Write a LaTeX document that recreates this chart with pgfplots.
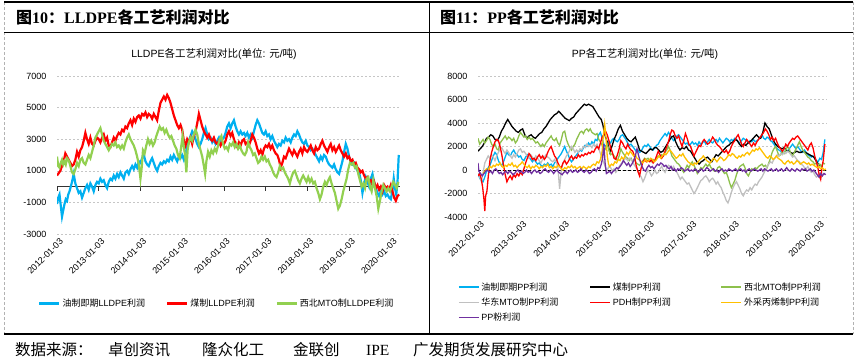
\documentclass[border=0pt]{standalone}
\usepackage{pgfplots}
\pgfplotsset{compat=1.18}
\usepackage{fontspec}
\setmainfont{Liberation Serif}
\newfontfamily\cjk{Noto Sans CJK SC}
\newfontfamily\lsans{Liberation Sans}
\newcommand\C[1]{{\cjk #1}}
\definecolor{cblue}{HTML}{00B0F0}
\definecolor{cred}{HTML}{FF0000}
\definecolor{cgreen}{HTML}{92D050}
\definecolor{cgreen2}{HTML}{8DC04C}
\definecolor{cgray}{HTML}{C0C0C0}
\definecolor{cyellow}{HTML}{FFC000}
\definecolor{cpurple}{HTML}{7030A0}
\pgfplotsset{
  mystyle/.style={
    scale only axis, anchor=south west,
    axis line style={draw=none},
    major tick length=0pt,
    ymajorgrids, grid style={gray!45, dash pattern=on 2pt off 2pt, line width=0.5pt},
    tick label style={font=\lsans\fontsize{9}{10}\selectfont},
    /pgf/number format/assume math mode=true,
    /pgf/number format/1000 sep={},
    scaled ticks=false,
    xtick={2012,2013,2014,2015,2016,2017,2018,2019,2020},
    xticklabels={2012-01-03,2013-01-03,2014-01-03,2015-01-03,2016-01-03,2017-01-03,2018-01-03,2019-01-03,2020-01-03},
    xticklabel style={rotate=45, anchor=north east, inner sep=1pt, yshift=-3pt},
    yticklabel style={xshift=-7pt},
    legend style={draw=none, fill=none, font=\lsans\fontsize{9}{10}\selectfont},
    legend image code/.code={\draw[##1] (0pt,0pt) -- (20pt,0pt);},
    legend cell align=left,
  }
}
\begin{document}
\begin{tikzpicture}
\begin{scope}[x=1pt,y=1pt]
\useasboundingbox (0,0) rectangle (857,364);
% frame
\draw[gray!60, densely dashed] (4,362) -- (4,30);
\draw[gray!60, densely dashed] (853,362) -- (853,30);
\draw[black, line width=1.2pt] (4,362) -- (853,362);
\draw[black, line width=0.8pt] (4,332) -- (853,332);
\draw[black, line width=0.8pt] (429,362) -- (429,30);
\draw[black, line width=1.2pt] (4,30) -- (853,30);
\node[anchor=west, font=\fontsize{16}{18}\selectfont\bfseries, inner sep=0pt] at (16,347) {\C{图}10\C{：}LLDPE\C{各工艺利润对比}};
\node[anchor=west, font=\fontsize{16}{18}\selectfont\bfseries, inner sep=0pt] at (440,347) {\C{图}11\C{：}PP\C{各工艺利润对比}};
% footer
\begin{scope}[every node/.style={anchor=west, inner sep=0pt, font=\cjk\fontsize{15.5}{17}\selectfont}]
\node at (15,14) {数据来源：};
\node at (108,14) {卓创资讯};
\node at (202,14) {隆众化工};
\node at (293,14) {金联创};
\node[font=\fontsize{15.5}{17}\selectfont] at (366,14) {IPE};
\node at (413,14) {广发期货发展研究中心};
\end{scope}
% titles
\node[font=\lsans\fontsize{10.5}{12}\selectfont] at (214,310) {LLDPE\C{各工艺利润对比}(\C{单位}: \C{元}/\C{吨})};
\node[font=\lsans\fontsize{10.5}{12}\selectfont] at (645,310) {PP\C{各工艺利润对比}(\C{单位}: \C{元}/\C{吨})};
\end{scope}

% ================= LEFT =================
\begin{axis}[mystyle, at={(57pt,130pt)}, width=343pt, height=158pt,
  xmin=2012, xmax=2020.22, ymin=-3000, ymax=7000,
  ytick={-3000,-1000,1000,3000,5000,7000},
  legend columns=3,
  legend style={at={(0.466,-0.44)}, anchor=center, /tikz/every even column/.append style={column sep=19pt}},
]
\addplot[black!80, line width=0.8pt, forget plot] coordinates {(2012,0) (2020.22,0)};
\addplot[black!80, line width=0.6pt, forget plot, ycomb, mark=none] coordinates {(2012,-250)(2013,-250)(2014,-250)(2015,-250)(2016,-250)(2017,-250)(2018,-250)(2019,-250)(2020,-250)};
\addplot[cblue, line width=2.2pt] coordinates {
(2012.00,-1100)(2012.03,-700)(2012.06,-500)(2012.09,-1200)(2012.12,-1900)(2012.15,-1500)(2012.18,-1100)(2012.21,-800)(2012.24,-900)(2012.27,-500)(2012.30,-300)(2012.33,0)(2012.36,300)(2012.40,800)(2012.44,200)(2012.48,-100)(2012.52,-400)(2012.56,-300)(2012.60,-700)(2012.64,-400)(2012.68,-100)(2012.72,100)(2012.76,-200)(2012.80,200)(2012.84,0)(2012.88,-300)(2012.92,100)(2012.96,300)
(2013.00,200)(2013.04,500)(2013.08,300)(2013.12,400)(2013.16,100)(2013.20,-100)(2013.24,300)(2013.28,500)(2013.32,400)(2013.36,700)(2013.40,500)(2013.44,800)(2013.48,600)(2013.52,900)(2013.56,700)(2013.60,500)(2013.64,900)(2013.68,1000)(2013.72,800)(2013.76,1100)(2013.80,1300)(2013.84,1100)(2013.88,1400)(2013.92,1200)(2013.96,1600)
(2014.00,1500)(2014.04,1800)(2014.08,2000)(2014.12,1600)(2014.16,1400)(2014.20,1300)(2014.24,1600)(2014.28,1800)(2014.32,1500)(2014.36,1200)(2014.40,1000)(2014.44,1300)(2014.48,1500)(2014.52,1400)(2014.56,1600)(2014.60,1500)(2014.64,1700)(2014.68,1600)(2014.72,1900)(2014.76,1700)(2014.80,2000)(2014.84,1800)(2014.88,1600)(2014.92,1900)(2014.96,1800)
(2015.00,2000)(2015.04,1700)(2015.08,2100)(2015.12,2500)(2015.16,2900)(2015.20,3200)(2015.24,3500)(2015.28,3300)(2015.32,3000)(2015.36,2700)(2015.40,2500)(2015.44,2700)(2015.48,3000)(2015.52,3400)(2015.56,3700)(2015.60,3300)(2015.64,3000)(2015.68,3100)(2015.72,2800)(2015.76,3000)(2015.80,2700)(2015.84,2900)(2015.88,3100)(2015.92,2800)(2015.96,3000)
(2016.00,3100)(2016.04,3400)(2016.08,3800)(2016.12,4000)(2016.16,3700)(2016.20,4000)(2016.24,4200)(2016.28,3800)(2016.32,3500)(2016.36,3300)(2016.40,3500)(2016.44,3300)(2016.48,3400)(2016.52,3200)(2016.56,3400)(2016.60,3100)(2016.64,3300)(2016.68,3100)(2016.72,3500)(2016.76,3900)(2016.80,4200)(2016.84,4000)(2016.88,3700)(2016.92,3400)(2016.96,3300)
(2017.00,3500)(2017.04,3200)(2017.08,3300)(2017.12,3000)(2017.16,3200)(2017.20,2900)(2017.24,2700)(2017.28,2500)(2017.32,2700)(2017.36,2600)(2017.40,2900)(2017.44,2800)(2017.48,3100)(2017.52,2900)(2017.56,3000)(2017.60,2800)(2017.64,3100)(2017.68,3300)(2017.72,3200)(2017.76,3500)(2017.80,3300)(2017.84,3000)(2017.88,2800)(2017.92,2700)(2017.96,2900)
(2018.00,2600)(2018.04,2500)(2018.08,2300)(2018.12,2400)(2018.16,2200)(2018.20,2000)(2018.24,1800)(2018.28,1600)(2018.32,1900)(2018.36,1700)(2018.40,2000)(2018.44,1900)(2018.48,1600)(2018.52,1400)(2018.56,1300)(2018.60,1200)(2018.64,1400)(2018.68,1100)(2018.72,900)(2018.76,800)(2018.80,1200)(2018.84,1600)(2018.88,2200)(2018.92,2700)(2018.96,2400)
(2019.00,1900)(2019.04,1600)(2019.08,1400)(2019.12,1500)(2019.16,1200)(2019.20,1000)(2019.24,900)(2019.28,400)(2019.32,-400)(2019.36,200)(2019.40,600)(2019.44,300)(2019.48,0)(2019.52,500)(2019.56,800)(2019.60,300)(2019.64,-100)(2019.68,-400)(2019.72,-600)(2019.76,-300)(2019.80,-500)(2019.84,-300)(2019.88,-600)(2019.92,-500)(2019.96,-700)
(2020.00,-800)(2020.04,-200)(2020.07,500)(2020.10,-100)(2020.13,-500)(2020.16,300)(2020.19,2000)
};
\addlegendentry{\C{油制即期}LLDPE\C{利润}}
\addplot[cred, line width=2.2pt] coordinates {
(2012.00,700)(2012.04,850)(2012.08,1000)(2012.12,1300)(2012.16,1600)(2012.20,2100)(2012.24,1900)(2012.28,1700)(2012.32,1500)(2012.36,1300)(2012.40,1400)(2012.44,1700)(2012.48,2200)(2012.52,1900)(2012.56,2300)(2012.60,2500)(2012.64,2900)(2012.68,3400)(2012.72,3000)(2012.76,2700)(2012.80,3100)(2012.84,2700)(2012.88,2600)(2012.92,2900)(2012.96,3100)
(2013.00,3000)(2013.04,2800)(2013.08,3100)(2013.12,3300)(2013.16,2900)(2013.20,3100)(2013.24,2600)(2013.28,2500)(2013.32,2800)(2013.36,3100)(2013.40,2900)(2013.44,3200)(2013.48,3400)(2013.52,3300)(2013.56,3600)(2013.60,3500)(2013.64,3800)(2013.68,3700)(2013.72,4000)(2013.76,4200)(2013.80,3900)(2013.84,4300)(2013.88,4100)(2013.92,4400)(2013.96,4500)
(2014.00,4300)(2014.04,4600)(2014.08,4500)(2014.12,4700)(2014.16,4400)(2014.20,4600)(2014.24,4500)(2014.28,4300)(2014.32,4600)(2014.36,4400)(2014.40,4200)(2014.44,4800)(2014.48,5300)(2014.52,5500)(2014.56,5700)(2014.60,5500)(2014.64,5800)(2014.68,5600)(2014.72,5300)(2014.76,4900)(2014.80,4500)(2014.84,4200)(2014.88,3900)(2014.92,3700)(2014.96,3900)
(2015.00,3600)(2015.04,2900)(2015.08,2600)(2015.12,3000)(2015.16,2800)(2015.20,3100)(2015.24,2700)(2015.28,3200)(2015.32,3500)(2015.36,4000)(2015.40,4600)(2015.44,4200)(2015.48,3800)(2015.52,3500)(2015.56,3300)(2015.60,3100)(2015.64,3300)(2015.68,3000)(2015.72,2900)(2015.76,3100)(2015.80,2800)(2015.84,2700)(2015.88,2900)(2015.92,2600)(2015.96,2800)
(2016.00,2700)(2016.04,2900)(2016.08,3300)(2016.12,3500)(2016.16,3200)(2016.20,3400)(2016.24,3000)(2016.28,2700)(2016.32,2500)(2016.36,2800)(2016.40,2600)(2016.44,2900)(2016.48,3000)(2016.52,2700)(2016.56,2800)(2016.60,2600)(2016.64,2900)(2016.68,3300)(2016.72,3100)(2016.76,2800)(2016.80,2400)(2016.84,2100)(2016.88,2300)(2016.92,2000)(2016.96,2400)
(2017.00,2600)(2017.04,2500)(2017.08,2700)(2017.12,2400)(2017.16,2600)(2017.20,2300)(2017.24,2100)(2017.28,2000)(2017.32,1700)(2017.36,1200)(2017.40,1500)(2017.44,1900)(2017.48,1800)(2017.52,2100)(2017.56,2400)(2017.60,2200)(2017.64,2000)(2017.68,2300)(2017.72,2100)(2017.76,1900)(2017.80,2200)(2017.84,2400)(2017.88,2100)(2017.92,2500)(2017.96,2300)
(2018.00,2200)(2018.04,2400)(2018.08,2600)(2018.12,2300)(2018.16,2100)(2018.20,2500)(2018.24,2300)(2018.28,2400)(2018.32,2700)(2018.36,2900)(2018.40,2600)(2018.44,2400)(2018.48,2200)(2018.52,2500)(2018.56,2700)(2018.60,2300)(2018.64,2500)(2018.68,2200)(2018.72,2400)(2018.76,2600)(2018.80,2300)(2018.84,2100)(2018.88,1900)(2018.92,2100)(2018.96,1800)
(2019.00,1900)(2019.04,1600)(2019.08,1700)(2019.12,1400)(2019.16,1500)(2019.20,1200)(2019.24,1100)(2019.28,900)(2019.32,1000)(2019.36,700)(2019.40,500)(2019.44,600)(2019.48,300)(2019.52,400)(2019.56,100)(2019.60,300)(2019.64,-100)(2019.68,100)(2019.72,-200)(2019.76,0)(2019.80,-300)(2019.84,100)(2019.88,-100)(2019.92,0)(2019.96,-200)
(2020.00,100)(2020.04,-300)(2020.08,-700)(2020.12,-900)(2020.16,-600)(2020.20,-500)
};
\addlegendentry{\C{煤制}LLDPE\C{利润}}
\addplot[cgreen, line width=2.2pt] coordinates {
(2012.00,1900)(2012.03,1300)(2012.06,1200)(2012.09,1500)(2012.12,1700)(2012.15,1400)(2012.18,1600)(2012.21,1400)(2012.24,1800)(2012.27,1700)(2012.30,1500)(2012.33,1200)(2012.36,900)(2012.40,800)(2012.44,1100)(2012.48,1500)(2012.52,1300)(2012.56,1700)(2012.60,1800)(2012.64,1500)(2012.68,1400)(2012.72,1700)(2012.76,2000)(2012.80,1800)(2012.84,2200)(2012.88,2600)(2012.92,3100)(2012.96,3300)
(2013.00,3500)(2013.04,3700)(2013.08,3300)(2013.12,2900)(2013.16,2700)(2013.20,2500)(2013.24,2300)(2013.28,2500)(2013.32,2700)(2013.36,2600)(2013.40,2800)(2013.44,2500)(2013.48,2600)(2013.52,2400)(2013.56,2600)(2013.60,2400)(2013.64,2800)(2013.68,3100)(2013.72,3300)(2013.76,3000)(2013.80,2800)(2013.84,2600)(2013.88,2300)(2013.92,1900)(2013.96,1400)
(2014.00,500)(2014.03,1200)(2014.06,2300)(2014.10,2100)(2014.14,2600)(2014.18,3000)(2014.22,2700)(2014.26,2900)(2014.30,2600)(2014.34,2800)(2014.38,3200)(2014.42,3500)(2014.46,3800)(2014.50,3600)(2014.54,3700)(2014.58,3400)(2014.62,3600)(2014.66,3300)(2014.70,3100)(2014.74,3200)(2014.78,2900)(2014.82,2600)(2014.86,2400)(2014.90,2000)(2014.94,1800)(2014.98,2600)
(2015.01,3200)(2015.04,2500)(2015.07,2000)(2015.10,900)(2015.13,2300)(2015.16,2800)(2015.20,3100)(2015.24,2900)(2015.28,3300)(2015.32,3600)(2015.36,3300)(2015.40,2700)(2015.44,2300)(2015.48,1900)(2015.52,1300)(2015.55,800)(2015.58,1600)(2015.62,2200)(2015.66,1900)(2015.70,2300)(2015.74,2100)(2015.78,2400)(2015.82,2200)(2015.86,2600)(2015.90,3000)(2015.94,3200)(2015.98,2700)
(2016.02,2400)(2016.06,2500)(2016.10,2300)(2016.14,2700)(2016.18,2600)(2016.22,2800)(2016.26,2500)(2016.30,2700)(2016.34,2400)(2016.38,2600)(2016.42,2300)(2016.46,2100)(2016.50,2000)(2016.54,2200)(2016.58,2800)(2016.62,2500)(2016.66,2300)(2016.70,2000)(2016.74,2100)(2016.78,1800)(2016.82,1500)(2016.86,1600)(2016.90,1900)(2016.94,1700)(2016.98,1900)
(2017.02,1600)(2017.06,1700)(2017.10,1400)(2017.14,1200)(2017.18,900)(2017.22,700)(2017.26,600)(2017.30,900)(2017.34,1300)(2017.38,1100)(2017.42,1200)(2017.46,900)(2017.50,700)(2017.54,500)(2017.58,200)(2017.62,600)(2017.66,900)(2017.70,1000)(2017.74,700)(2017.78,400)(2017.82,200)(2017.86,500)(2017.90,700)(2017.94,500)(2017.98,300)
(2018.02,600)(2018.06,300)(2018.10,500)(2018.14,200)(2018.18,300)(2018.22,-100)(2018.26,-400)(2018.30,-800)(2018.34,-500)(2018.38,0)(2018.42,300)(2018.46,100)(2018.50,400)(2018.54,600)(2018.58,200)(2018.62,-100)(2018.66,-400)(2018.70,-900)(2018.74,-1400)(2018.78,-1200)(2018.82,-800)(2018.86,-300)(2018.90,100)(2018.94,500)(2018.98,1100)
(2019.02,1500)(2019.06,1400)(2019.10,1500)(2019.14,1200)(2019.18,1300)(2019.22,800)(2019.26,400)(2019.30,0)(2019.34,200)(2019.38,-100)(2019.42,500)(2019.46,600)(2019.50,0)(2019.54,-300)(2019.58,400)(2019.62,-100)(2019.66,-600)(2019.70,-1400)(2019.74,-900)(2019.78,-300)(2019.82,100)(2019.86,-100)(2019.90,-300)(2019.94,-100)(2019.98,-300)
(2020.02,0)(2020.06,300)(2020.10,100)(2020.14,-100)(2020.18,300)
};
\addlegendentry{\C{西北}MTO\C{制}LLDPE\C{利润}}
\end{axis}

% ================= RIGHT =================
\begin{axis}[mystyle, at={(478pt,147pt)}, width=349pt, height=141pt,
  xmin=2012, xmax=2020.21, ymin=-4000, ymax=8000,
  ytick={-4000,-2000,0,2000,4000,6000,8000},
  legend columns=3,
  legend style={at={(-0.066,-0.435)}, anchor=north west, /tikz/every even column/.append style={column sep=0pt}, row sep=2pt},
]
\addplot[black, dash pattern=on 3pt off 2pt, line width=0.7pt, forget plot] coordinates {(2012,0) (2020.21,0)};
\addplot[cblue, line width=1.3pt] coordinates {
(2012.00,-300)(2012.04,-700)(2012.08,-900)(2012.12,-1000)(2012.16,-600)(2012.20,-100)(2012.24,200)(2012.28,400)(2012.32,800)(2012.36,1200)(2012.40,1500)(2012.44,1300)(2012.48,800)(2012.52,500)(2012.56,400)(2012.60,700)(2012.64,1100)(2012.68,1500)(2012.72,1300)(2012.76,1200)(2012.80,1500)(2012.84,1700)(2012.88,1400)(2012.92,1300)(2012.96,1100)
(2013.00,1200)(2013.04,900)(2013.08,800)(2013.12,1100)(2013.16,1300)(2013.20,1100)(2013.24,900)(2013.28,700)(2013.32,900)(2013.36,700)(2013.40,500)(2013.44,600)(2013.48,400)(2013.52,300)(2013.56,500)(2013.60,400)(2013.64,600)(2013.68,400)(2013.72,500)(2013.76,300)(2013.80,600)(2013.84,800)(2013.88,1000)(2013.92,1200)(2013.96,1400)
(2014.00,1700)(2014.04,2000)(2014.08,1600)(2014.12,1300)(2014.16,900)(2014.20,700)(2014.24,900)(2014.28,1100)(2014.32,1300)(2014.36,1500)(2014.40,1700)(2014.44,1600)(2014.48,1900)(2014.52,2100)(2014.56,2000)(2014.60,2300)(2014.64,2100)(2014.68,2400)(2014.72,2200)(2014.76,2600)(2014.80,2500)(2014.84,3000)(2014.88,3200)(2014.92,2700)(2014.96,2200)
(2015.00,2000)(2015.04,2200)(2015.08,2400)(2015.12,2300)(2015.16,2600)(2015.20,2700)(2015.24,2500)(2015.28,2400)(2015.32,2600)(2015.36,2900)(2015.40,3000)(2015.44,2800)(2015.48,2600)(2015.52,2300)(2015.56,2100)(2015.60,2200)(2015.64,2000)(2015.68,1800)(2015.72,1600)(2015.76,1700)(2015.80,1500)(2015.84,1600)(2015.88,1900)(2015.92,2100)(2015.96,2000)
(2016.00,2200)(2016.04,2000)(2016.08,1800)(2016.12,1700)(2016.16,1900)(2016.20,2100)(2016.24,2200)(2016.28,2500)(2016.32,2700)(2016.36,2900)(2016.40,3100)(2016.44,2900)(2016.48,3200)(2016.52,3000)(2016.56,2700)(2016.60,2500)(2016.64,2600)(2016.68,2900)(2016.72,3000)(2016.76,2800)(2016.80,2600)(2016.84,2400)(2016.88,2200)(2016.92,2300)(2016.96,2100)
(2017.00,2200)(2017.04,2400)(2017.08,2200)(2017.12,2300)(2017.16,2100)(2017.20,2400)(2017.24,2200)(2017.28,2300)(2017.32,2500)(2017.36,2200)(2017.40,2400)(2017.44,2600)(2017.48,2400)(2017.52,2300)(2017.56,2500)(2017.60,2600)(2017.64,2400)(2017.68,2700)(2017.72,2500)(2017.76,2300)(2017.80,2500)(2017.84,2700)(2017.88,2600)(2017.92,2400)(2017.96,2600)
(2018.00,2500)(2018.04,2700)(2018.08,2600)(2018.12,2400)(2018.16,2300)(2018.20,2500)(2018.24,2700)(2018.28,2600)(2018.32,2500)(2018.36,2300)(2018.40,2500)(2018.44,2400)(2018.48,2600)(2018.52,2400)(2018.56,2500)(2018.60,2600)(2018.64,2800)(2018.68,3000)(2018.72,2700)(2018.76,2600)(2018.80,2800)(2018.84,2700)(2018.88,2500)(2018.92,2400)(2018.96,2200)
(2019.00,2000)(2019.04,1800)(2019.08,1700)(2019.12,1600)(2019.16,1400)(2019.20,1500)(2019.24,1700)(2019.28,1600)(2019.32,1800)(2019.36,2000)(2019.40,2200)(2019.44,2000)(2019.48,1800)(2019.52,2000)(2019.56,1800)(2019.60,1600)(2019.64,1500)(2019.68,1700)(2019.72,1500)(2019.76,1300)(2019.80,1200)(2019.84,1100)(2019.88,1200)(2019.92,1000)(2019.96,800)
(2020.00,700)(2020.04,1000)(2020.08,900)(2020.12,1500)(2020.16,2600)
};
\addlegendentry{\makebox[106pt][l]{\C{油制即期}PP\C{利润}}}
\addplot[black, line width=1.3pt] coordinates {
(2012.00,1600)(2012.05,1800)(2012.10,2000)(2012.15,2300)(2012.20,2700)(2012.25,2800)(2012.30,3000)(2012.35,2900)(2012.40,2600)(2012.45,2500)(2012.50,2800)(2012.55,3300)(2012.60,3600)(2012.65,4000)(2012.70,4300)(2012.75,4000)(2012.80,3700)(2012.85,3500)(2012.90,3300)(2012.95,3200)
(2013.00,3400)(2013.05,3500)(2013.10,3000)(2013.15,2700)(2013.20,2900)(2013.25,3000)(2013.30,2800)(2013.35,2700)(2013.40,2900)(2013.45,3100)(2013.50,3200)(2013.55,3500)(2013.60,3700)(2013.65,4000)(2013.70,4300)(2013.75,4500)(2013.80,4700)(2013.85,4800)(2013.90,5000)(2013.95,4800)
(2014.00,4600)(2014.05,4400)(2014.10,4300)(2014.15,4200)(2014.20,4400)(2014.25,4500)(2014.30,4800)(2014.35,5000)(2014.40,5200)(2014.45,5400)(2014.50,5600)(2014.55,5500)(2014.60,5600)(2014.65,5500)(2014.70,5400)(2014.75,5100)(2014.80,4800)(2014.85,4500)(2014.90,4300)(2014.94,3800)(2014.97,3200)
(2015.00,2800)(2015.05,2300)(2015.10,1500)(2015.15,2000)(2015.20,2600)(2015.25,3000)(2015.30,3500)(2015.35,3800)(2015.40,3300)(2015.45,3000)(2015.50,2700)(2015.55,2500)(2015.60,2400)(2015.65,2600)(2015.70,2800)(2015.75,2300)(2015.80,1700)(2015.85,1600)(2015.90,1500)(2015.95,1400)
(2016.00,1600)(2016.05,1800)(2016.10,1700)(2016.15,1900)(2016.20,1900)(2016.25,1700)(2016.30,1500)(2016.35,1600)(2016.40,1900)(2016.45,2200)(2016.50,2500)(2016.55,2800)(2016.60,2900)(2016.65,2400)(2016.70,2000)(2016.75,1700)(2016.80,1900)(2016.85,1800)(2016.90,2000)(2016.95,1700)
(2017.00,1600)(2017.05,1300)(2017.10,1000)(2017.15,700)(2017.20,500)(2017.25,700)(2017.30,800)(2017.35,1000)(2017.40,1100)(2017.45,900)(2017.50,700)(2017.55,1000)(2017.60,1300)(2017.65,1200)(2017.70,1400)(2017.75,1600)(2017.80,1800)(2017.85,2000)(2017.90,2100)(2017.95,2300)
(2018.00,2400)(2018.05,2600)(2018.10,2500)(2018.15,2200)(2018.20,2000)(2018.25,2200)(2018.30,2100)(2018.35,2300)(2018.40,2400)(2018.45,2600)(2018.50,2800)(2018.55,3000)(2018.60,2800)(2018.65,2700)(2018.70,3200)(2018.75,4000)(2018.80,3700)(2018.85,3500)(2018.90,3000)(2018.95,2500)
(2019.00,2200)(2019.05,2000)(2019.10,1900)(2019.15,1800)(2019.20,1900)(2019.25,1700)(2019.30,1600)(2019.35,1500)(2019.40,1400)(2019.45,1500)(2019.50,1600)(2019.55,1500)(2019.60,1500)(2019.65,1600)(2019.70,1500)(2019.75,1400)(2019.80,1300)(2019.85,1200)(2019.90,1100)(2019.95,800)
(2020.00,500)(2020.05,400)(2020.10,300)
};
\addlegendentry{\makebox[106pt][l]{\C{煤制}PP\C{利润}}}
\addplot[cgreen2, line width=1.3pt] coordinates {
(2012.00,2700)(2012.04,2200)(2012.08,2400)(2012.12,2600)(2012.16,2300)(2012.20,2500)(2012.24,2800)(2012.28,2600)(2012.32,2200)(2012.36,2000)(2012.40,2200)(2012.44,1800)(2012.48,1700)(2012.52,2300)(2012.56,2500)(2012.60,2700)(2012.64,2900)(2012.68,2600)(2012.72,2800)(2012.76,2700)(2012.80,2500)(2012.84,2700)(2012.88,2300)(2012.92,2500)(2012.96,2900)
(2013.00,3200)(2013.04,3000)(2013.08,2800)(2013.12,2900)(2013.16,2600)(2013.20,2800)(2013.24,2600)(2013.28,2700)(2013.32,2500)(2013.36,2300)(2013.40,2400)(2013.44,2200)(2013.48,2000)(2013.52,2200)(2013.56,2000)(2013.60,2300)(2013.64,2500)(2013.68,2700)(2013.72,2900)(2013.76,2600)(2013.80,2500)(2013.84,2700)(2013.88,2300)(2013.92,2100)(2013.96,2600)
(2014.00,3200)(2014.04,3300)(2014.08,2600)(2014.12,2200)(2014.16,1900)(2014.20,1700)(2014.24,2000)(2014.28,2200)(2014.32,2600)(2014.36,2900)(2014.40,3200)(2014.44,3300)(2014.48,3100)(2014.52,3400)(2014.56,3500)(2014.60,3300)(2014.64,3500)(2014.68,3200)(2014.72,3100)(2014.76,3000)(2014.80,3100)(2014.84,2600)(2014.88,2400)(2014.92,2100)(2014.96,1600)
(2015.00,1800)(2015.04,2200)(2015.08,1700)(2015.12,1300)(2015.16,1400)(2015.20,1200)(2015.24,1000)(2015.28,800)(2015.32,1200)(2015.36,1800)(2015.40,1500)(2015.44,1300)(2015.48,1100)(2015.52,1000)(2015.56,800)(2015.60,1000)(2015.64,700)(2015.68,900)(2015.72,600)(2015.76,500)(2015.80,400)(2015.84,600)(2015.88,800)(2015.92,1000)(2015.96,900)
(2016.00,1000)(2016.04,800)(2016.08,700)(2016.12,900)(2016.16,800)(2016.20,1000)(2016.24,1200)(2016.28,1100)(2016.32,1300)(2016.36,1200)(2016.40,1500)(2016.44,1700)(2016.48,2000)(2016.52,1700)(2016.56,1200)(2016.60,1000)(2016.64,800)(2016.68,600)(2016.72,500)(2016.76,300)(2016.80,0)(2016.84,-200)(2016.88,100)(2016.92,400)(2016.96,200)
(2017.00,500)(2017.04,700)(2017.08,400)(2017.12,100)(2017.16,-300)(2017.20,-100)(2017.24,200)(2017.28,100)(2017.32,300)(2017.36,500)(2017.40,300)(2017.44,500)(2017.48,200)(2017.52,100)(2017.56,-100)(2017.60,-100)(2017.64,200)(2017.68,300)(2017.72,100)(2017.76,-100)(2017.80,-300)(2017.84,-200)(2017.88,-600)(2017.92,-1100)(2017.96,-1500)
(2018.00,-1200)(2018.04,-900)(2018.08,-400)(2018.12,0)(2018.16,300)(2018.20,400)(2018.24,500)(2018.28,200)(2018.32,-300)(2018.36,-500)(2018.40,-200)(2018.44,100)(2018.48,0)(2018.52,200)(2018.56,100)(2018.60,300)(2018.64,400)(2018.68,500)(2018.72,300)(2018.76,400)(2018.80,200)(2018.84,600)(2018.88,1000)(2018.92,1500)(2018.96,1800)
(2019.00,2000)(2019.04,1600)(2019.08,1200)(2019.12,1300)(2019.16,1600)(2019.20,1400)(2019.24,1700)(2019.28,2000)(2019.32,1800)(2019.36,1400)(2019.40,1200)(2019.44,1500)(2019.48,1800)(2019.52,2100)(2019.56,2400)(2019.60,2000)(2019.64,1700)(2019.68,1500)(2019.72,1300)(2019.76,1100)(2019.80,1000)(2019.84,800)(2019.88,700)(2019.92,500)(2019.96,600)
(2020.00,400)(2020.04,500)(2020.08,300)(2020.12,600)(2020.16,500)
};
\addlegendentry{\C{西北}MTO\C{制}PP\C{利润}}
\addplot[cgray, line width=1.3pt] coordinates {
(2012.00,-300)(2012.04,-600)(2012.08,-1000)(2012.12,-200)(2012.16,600)(2012.20,900)(2012.24,1200)(2012.28,1000)(2012.32,1300)(2012.36,1100)(2012.40,800)(2012.44,1200)(2012.48,1500)(2012.52,1800)(2012.56,1900)(2012.60,1600)(2012.64,1400)(2012.68,1700)(2012.72,1500)(2012.76,1200)(2012.80,1000)(2012.84,1300)(2012.88,1100)(2012.92,1400)(2012.96,1700)
(2013.00,1800)(2013.04,1500)(2013.08,1600)(2013.12,1400)(2013.16,1200)(2013.20,1000)(2013.24,1300)(2013.28,1100)(2013.32,900)(2013.36,1200)(2013.40,1000)(2013.44,800)(2013.48,600)(2013.52,900)(2013.56,1100)(2013.60,1300)(2013.64,1100)(2013.68,1000)(2013.72,800)(2013.76,700)(2013.80,900)(2013.84,700)(2013.88,200)(2013.92,-1600)(2013.96,0)
(2014.00,600)(2014.04,900)(2014.08,1200)(2014.12,1400)(2014.16,1700)(2014.20,2000)(2014.24,1800)(2014.28,1500)(2014.32,1700)(2014.36,1500)(2014.40,1800)(2014.44,1700)(2014.48,2000)(2014.52,1900)(2014.56,2200)(2014.60,2000)(2014.64,2100)(2014.68,1900)(2014.72,2200)(2014.76,2000)(2014.80,2200)(2014.84,1800)(2014.88,1400)(2014.92,1000)(2014.96,600)
(2015.00,200)(2015.04,0)(2015.08,300)(2015.12,200)(2015.16,-100)(2015.20,100)(2015.24,-200)(2015.28,0)(2015.32,300)(2015.36,500)(2015.40,700)(2015.44,900)(2015.48,1000)(2015.52,800)(2015.56,1000)(2015.60,900)(2015.64,700)(2015.68,400)(2015.72,200)(2015.76,-100)(2015.80,-400)(2015.84,-600)(2015.88,-1000)(2015.92,-700)(2015.96,-300)
(2016.00,0)(2016.04,-200)(2016.08,-500)(2016.12,-300)(2016.16,0)(2016.20,-300)(2016.24,-200)(2016.28,100)(2016.32,300)(2016.36,0)(2016.40,-200)(2016.44,200)(2016.48,400)(2016.52,300)(2016.56,100)(2016.60,300)(2016.64,0)(2016.68,-200)(2016.72,-500)(2016.76,-800)(2016.80,-600)(2016.84,-800)(2016.88,-1000)(2016.92,-1200)(2016.96,-1100)
(2017.00,-1400)(2017.04,-1700)(2017.08,-2000)(2017.12,-1800)(2017.16,-1500)(2017.20,-1200)(2017.24,-900)(2017.28,-800)(2017.32,-600)(2017.36,-500)(2017.40,-700)(2017.44,-1000)(2017.48,-800)(2017.52,-700)(2017.56,-900)(2017.60,-1200)(2017.64,-1000)(2017.68,-1300)(2017.72,-1500)(2017.76,-1900)(2017.80,-2200)(2017.84,-2600)(2017.88,-2800)(2017.92,-2400)(2017.96,-1900)
(2018.00,-1500)(2018.04,-1200)(2018.08,-1000)(2018.12,-1300)(2018.16,-1600)(2018.20,-2000)(2018.24,-2200)(2018.28,-1900)(2018.32,-1700)(2018.36,-1800)(2018.40,-1500)(2018.44,-1700)(2018.48,-1400)(2018.52,-1200)(2018.56,-1300)(2018.60,-1000)(2018.64,-800)(2018.68,-600)(2018.72,-300)(2018.76,0)(2018.80,300)(2018.84,500)(2018.88,700)(2018.92,600)(2018.96,900)
(2019.00,1100)(2019.04,1300)(2019.08,1200)(2019.12,1400)(2019.16,1300)(2019.20,1500)(2019.24,1400)(2019.28,1600)(2019.32,1500)(2019.36,1300)(2019.40,1100)(2019.44,1200)(2019.48,1000)(2019.52,800)(2019.56,700)(2019.60,500)(2019.64,400)(2019.68,200)(2019.72,100)(2019.76,300)(2019.80,0)(2019.84,-200)(2019.88,-100)(2019.92,-400)(2019.96,-600)
(2020.00,-500)(2020.04,-300)(2020.08,-600)(2020.12,-300)(2020.16,-400)
};
\addlegendentry{\C{华东}MTO\C{制}PP\C{利润}}
\addplot[cred, line width=1.3pt] coordinates {
(2012.00,-500)(2012.04,-300)(2012.08,-800)(2012.11,-1500)(2012.14,-2500)(2012.16,-3500)(2012.18,-2200)(2012.21,-1800)(2012.24,-600)(2012.28,800)(2012.32,1500)(2012.36,2000)(2012.40,2400)(2012.44,2600)(2012.48,2500)(2012.52,2000)(2012.56,1300)(2012.60,400)(2012.64,-400)(2012.68,-1000)(2012.72,-700)(2012.76,-500)(2012.80,-800)(2012.84,-400)(2012.88,-600)(2012.92,-300)(2012.96,-500)
(2013.00,-200)(2013.04,-400)(2013.08,100)(2013.12,600)(2013.16,1000)(2013.20,1400)(2013.24,1200)(2013.28,900)(2013.32,1000)(2013.36,800)(2013.40,1100)(2013.44,1300)(2013.48,1000)(2013.52,1200)(2013.56,900)(2013.60,1100)(2013.64,1500)(2013.68,1800)(2013.72,2000)(2013.76,1600)(2013.80,1200)(2013.84,1000)(2013.88,600)(2013.92,300)(2013.96,200)
(2014.00,600)(2014.04,800)(2014.08,500)(2014.12,700)(2014.16,1000)(2014.20,1200)(2014.24,900)(2014.28,1100)(2014.32,1000)(2014.36,1300)(2014.40,1100)(2014.44,1300)(2014.48,1200)(2014.52,1400)(2014.56,1300)(2014.60,1500)(2014.64,1400)(2014.68,1600)(2014.72,1500)(2014.76,1800)(2014.80,2000)(2014.84,1800)(2014.88,2300)(2014.92,2800)(2014.96,3000)
(2015.00,3300)(2015.04,3000)(2015.08,2500)(2015.12,1900)(2015.16,1500)(2015.20,1000)(2015.24,900)(2015.28,1300)(2015.32,1800)(2015.36,2500)(2015.40,2300)(2015.44,2000)(2015.48,1800)(2015.52,2200)(2015.56,1900)(2015.60,1700)(2015.64,1600)(2015.68,1200)(2015.72,400)(2015.76,-100)(2015.80,-500)(2015.84,200)(2015.88,700)(2015.92,900)(2015.96,700)
(2016.00,800)(2016.04,700)(2016.08,900)(2016.12,600)(2016.16,800)(2016.20,1200)(2016.24,1600)(2016.28,1300)(2016.32,1000)(2016.36,1200)(2016.40,1600)(2016.44,2000)(2016.48,2400)(2016.52,3000)(2016.56,3400)(2016.60,3300)(2016.64,2900)(2016.68,2700)(2016.72,2900)(2016.76,2400)(2016.80,2000)(2016.84,2500)(2016.88,3100)(2016.92,2700)(2016.96,2200)
(2017.00,2000)(2017.04,1600)(2017.08,1200)(2017.12,1500)(2017.16,1800)(2017.20,2100)(2017.24,2000)(2017.28,2400)(2017.32,2600)(2017.36,2400)(2017.40,2200)(2017.44,2300)(2017.48,2500)(2017.52,2800)(2017.56,2600)(2017.60,2300)(2017.64,2100)(2017.68,2000)(2017.72,1800)(2017.76,1600)(2017.80,1500)(2017.84,1700)(2017.88,1400)(2017.92,1600)(2017.96,2000)
(2018.00,2300)(2018.04,2500)(2018.08,2800)(2018.12,3000)(2018.16,2600)(2018.20,2200)(2018.24,2000)(2018.28,2300)(2018.32,2600)(2018.36,2400)(2018.40,2200)(2018.44,2000)(2018.48,2300)(2018.52,2100)(2018.56,2400)(2018.60,2600)(2018.64,2800)(2018.68,3000)(2018.72,3200)(2018.76,3500)(2018.80,3300)(2018.84,3000)(2018.88,2600)(2018.92,2800)(2018.96,2500)
(2019.00,2700)(2019.04,2300)(2019.08,2000)(2019.12,1800)(2019.16,1600)(2019.20,1800)(2019.24,2200)(2019.28,2000)(2019.32,2300)(2019.36,2500)(2019.40,2700)(2019.44,2600)(2019.48,2800)(2019.52,2900)(2019.56,2700)(2019.60,2500)(2019.64,2300)(2019.68,2100)(2019.72,1900)(2019.76,1700)(2019.80,2100)(2019.84,2300)(2019.88,1900)(2019.92,1200)(2019.96,700)
(2020.00,100)(2020.03,-500)(2020.06,-800)(2020.09,200)(2020.12,800)(2020.16,2200)
};
\addlegendentry{PDH\C{制}PP\C{利润}}
\addplot[cyellow, line width=1.3pt] coordinates {
(2012.12,-300)(2012.16,-100)(2012.20,100)(2012.24,0)(2012.28,300)(2012.32,200)(2012.36,400)(2012.40,300)(2012.44,500)(2012.48,400)(2012.52,600)(2012.56,300)(2012.60,200)(2012.64,400)(2012.68,300)(2012.72,500)(2012.76,400)(2012.80,600)(2012.84,300)(2012.88,400)(2012.92,200)(2012.96,400)
(2013.00,500)(2013.04,700)(2013.08,500)(2013.12,300)(2013.16,200)(2013.20,400)(2013.24,100)(2013.28,300)(2013.32,200)(2013.36,400)(2013.40,300)(2013.44,100)(2013.48,300)(2013.52,200)(2013.56,400)(2013.60,300)(2013.64,500)(2013.68,200)(2013.72,300)(2013.76,100)(2013.80,300)(2013.84,200)(2013.88,400)(2013.92,300)(2013.96,100)
(2014.00,0)(2014.04,200)(2014.08,100)(2014.12,300)(2014.16,200)(2014.20,400)(2014.24,200)(2014.28,300)(2014.32,100)(2014.36,200)(2014.40,300)(2014.44,100)(2014.48,300)(2014.52,200)(2014.56,100)(2014.60,300)(2014.64,200)(2014.68,400)(2014.72,500)(2014.76,400)(2014.80,700)(2014.84,600)(2014.88,900)(2014.92,1600)(2014.95,3000)(2014.98,3900)
(2015.01,2800)(2015.04,1200)(2015.07,500)(2015.10,300)(2015.14,500)(2015.18,400)(2015.22,700)(2015.26,600)(2015.30,900)(2015.34,800)(2015.38,1100)(2015.42,900)(2015.46,1200)(2015.50,1500)(2015.54,1300)(2015.58,1600)(2015.62,1400)(2015.66,1200)(2015.70,1300)(2015.74,1000)(2015.78,900)(2015.82,800)(2015.86,600)(2015.90,700)(2015.94,900)(2015.98,700)
(2016.02,800)(2016.06,1000)(2016.10,900)(2016.14,700)(2016.18,800)(2016.22,1000)(2016.26,1200)(2016.30,1000)(2016.34,1200)(2016.38,1400)(2016.42,1300)(2016.46,1500)(2016.50,1700)(2016.54,1600)(2016.58,1400)(2016.62,1200)(2016.66,1000)(2016.70,1100)(2016.74,1300)(2016.78,1200)(2016.82,1400)(2016.86,1100)(2016.90,900)(2016.94,700)(2016.98,600)
(2017.02,500)(2017.06,400)(2017.10,600)(2017.14,500)(2017.18,700)(2017.22,900)(2017.26,1000)(2017.30,1200)(2017.34,1000)(2017.38,800)(2017.42,700)(2017.46,600)(2017.50,800)(2017.54,1000)(2017.58,900)(2017.62,700)(2017.66,900)(2017.70,1100)(2017.74,1000)(2017.78,800)(2017.82,900)(2017.86,1100)(2017.90,1300)(2017.94,1200)(2017.98,1400)
(2018.02,1300)(2018.06,1100)(2018.10,1000)(2018.14,1200)(2018.18,1100)(2018.22,1300)(2018.26,1200)(2018.30,1400)(2018.34,1500)(2018.38,1300)(2018.42,1500)(2018.46,1700)(2018.50,1600)(2018.54,1800)(2018.58,1700)(2018.62,1900)(2018.66,1700)(2018.70,1500)(2018.74,1300)(2018.78,1100)(2018.82,1000)(2018.86,1200)(2018.90,1100)(2018.94,900)(2018.98,1000)
(2019.02,1200)(2019.06,1000)(2019.10,900)(2019.14,800)(2019.18,600)(2019.22,500)(2019.26,700)(2019.30,800)(2019.34,600)(2019.38,700)(2019.42,500)(2019.46,600)(2019.50,800)(2019.54,700)(2019.58,500)(2019.62,600)(2019.66,700)(2019.70,600)(2019.74,500)(2019.78,600)(2019.82,400)(2019.86,500)(2019.90,400)(2019.94,300)(2019.98,200)
(2020.02,300)(2020.06,100)(2020.10,200)(2020.14,0)(2020.18,100)
};
\addlegendentry{\C{外采丙烯制}PP\C{利润}}
\addplot[cpurple, line width=1.3pt] coordinates {
(2012.00,600)(2012.02,-100)(2012.06,-300)(2012.10,-500)(2012.14,-300)(2012.18,-100)(2012.22,0)(2012.26,-200)(2012.30,-100)(2012.34,-300)(2012.38,0)(2012.42,100)(2012.46,-100)(2012.50,-300)(2012.54,-200)(2012.58,-400)(2012.62,-200)(2012.66,-100)(2012.70,-300)(2012.74,-100)(2012.78,-200)(2012.82,-400)(2012.86,-300)(2012.90,-100)(2012.94,0)(2012.98,-200)
(2013.02,-100)(2013.06,-300)(2013.10,-200)(2013.14,0)(2013.18,-200)(2013.22,-100)(2013.26,-300)(2013.30,-100)(2013.34,0)(2013.38,-200)(2013.42,-100)(2013.46,-300)(2013.50,-200)(2013.54,0)(2013.58,100)(2013.62,-100)(2013.66,-200)(2013.70,0)(2013.74,-100)(2013.78,-300)(2013.82,-100)(2013.86,0)(2013.90,-200)(2013.94,-300)(2013.98,-400)
(2014.02,-200)(2014.06,-100)(2014.10,-300)(2014.14,-100)(2014.18,0)(2014.22,-200)(2014.26,-100)(2014.30,0)(2014.34,-200)(2014.38,-100)(2014.42,100)(2014.46,-100)(2014.50,-200)(2014.54,0)(2014.58,-100)(2014.62,-300)(2014.66,-200)(2014.70,0)(2014.74,100)(2014.78,-100)(2014.82,200)(2014.86,100)(2014.90,500)(2014.93,1000)(2014.96,2200)(2014.99,600)
(2015.02,-300)(2015.06,-200)(2015.10,-100)(2015.14,-300)(2015.18,-100)(2015.22,0)(2015.26,200)(2015.30,100)(2015.34,300)(2015.38,500)(2015.42,800)(2015.46,600)(2015.50,400)(2015.54,600)(2015.58,300)(2015.62,500)(2015.66,800)(2015.70,1200)(2015.74,1800)(2015.78,1200)(2015.82,700)(2015.86,300)(2015.90,0)(2015.94,-100)(2015.98,200)
(2016.02,400)(2016.06,200)(2016.10,300)(2016.14,100)(2016.18,300)(2016.22,500)(2016.26,400)(2016.30,600)(2016.34,500)(2016.38,300)(2016.42,400)(2016.46,200)(2016.50,100)(2016.54,300)(2016.58,0)(2016.62,100)(2016.66,-100)(2016.70,100)(2016.74,0)(2016.78,200)(2016.82,100)(2016.86,-100)(2016.90,0)(2016.94,100)(2016.98,-100)
(2017.02,0)(2017.06,-100)(2017.10,100)(2017.14,0)(2017.18,-200)(2017.22,0)(2017.26,100)(2017.30,-100)(2017.34,0)(2017.38,200)(2017.42,100)(2017.46,-100)(2017.50,0)(2017.54,100)(2017.58,-100)(2017.62,0)(2017.66,-200)(2017.70,0)(2017.74,100)(2017.78,-100)(2017.82,0)(2017.86,-100)(2017.90,100)(2017.94,0)(2017.98,-100)
(2018.02,0)(2018.06,100)(2018.10,-100)(2018.14,0)(2018.18,100)(2018.22,-100)(2018.26,0)(2018.30,-200)(2018.34,0)(2018.38,100)(2018.42,-100)(2018.46,0)(2018.50,100)(2018.54,0)(2018.58,-100)(2018.62,0)(2018.66,100)(2018.70,-100)(2018.74,100)(2018.78,0)(2018.82,-100)(2018.86,0)(2018.90,100)(2018.94,-100)(2018.98,0)
(2019.02,100)(2019.06,-100)(2019.10,0)(2019.14,100)(2019.18,-100)(2019.22,0)(2019.26,200)(2019.30,0)(2019.34,-100)(2019.38,100)(2019.42,0)(2019.46,-100)(2019.50,100)(2019.54,0)(2019.58,-100)(2019.62,100)(2019.66,0)(2019.70,100)(2019.74,-100)(2019.78,0)(2019.82,100)(2019.86,-100)(2019.90,0)(2019.94,-200)(2019.98,-400)
(2020.02,-600)(2020.06,-300)(2020.10,-500)(2020.14,-300)(2020.18,-400)
};
\addlegendentry{PP\C{粉利润}}
\end{axis}
\end{tikzpicture}
\end{document}
